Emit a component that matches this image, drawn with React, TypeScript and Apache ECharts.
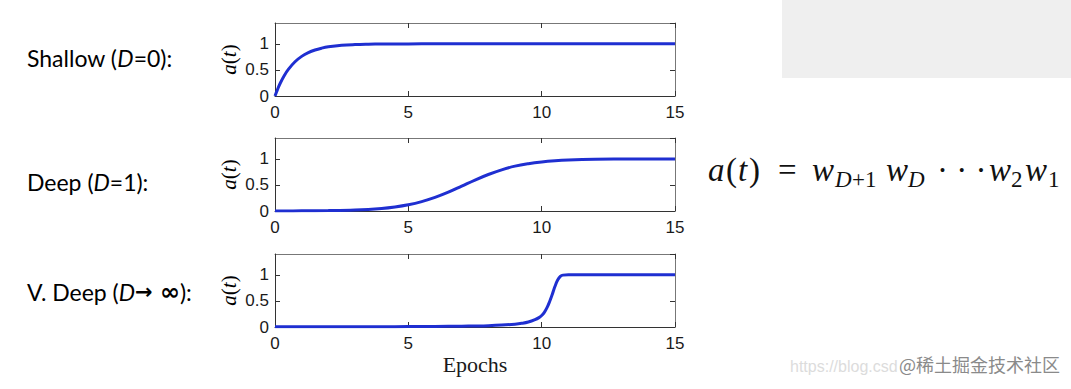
import React, { useEffect, useRef } from "react";
import * as echarts from "echarts";

// ---- data ----
const xTicks = [0, 5, 10, 15];
const yTickLabels = ["0", "0.5", "1"];

const shallowT = [0, 0.1, 0.2, 0.35, 0.5, 0.75, 1, 1.25, 1.5, 1.75, 2, 2.5, 3, 3.5, 4, 5, 6, 8, 10, 12, 15];
const shallowA = [0, 0.133, 0.249, 0.393, 0.51, 0.657, 0.76, 0.832, 0.883, 0.918, 0.943, 0.972, 0.986, 0.993, 0.997, 0.999, 1, 1, 1, 1, 1];

const deepT = [0, 1, 2, 3, 4, 4.5, 5, 5.5, 6, 6.5, 7, 7.5, 8, 8.5, 9, 9.5, 10, 10.5, 11, 12, 13, 14, 15];
const deepA = [0.0012, 0.003, 0.0078, 0.02, 0.05, 0.078, 0.12, 0.18, 0.26, 0.36, 0.476, 0.594, 0.7, 0.79, 0.86, 0.907, 0.94, 0.962, 0.976, 0.991, 0.996, 0.9986, 0.9995];

const vdeepT = [0, 2, 4, 5, 6, 7, 7.5, 8, 8.5, 9, 9.25, 9.5, 9.75, 9.9, 10, 10.1, 10.2, 10.3, 10.4, 10.5, 10.6, 10.7, 10.8, 11, 12, 13, 14, 15];
const vdeepA = [0.003, 0.004, 0.006, 0.008, 0.011, 0.016, 0.02, 0.026, 0.037, 0.055, 0.07, 0.095, 0.14, 0.18, 0.22, 0.28, 0.37, 0.49, 0.63, 0.78, 0.9, 0.97, 0.995, 1, 1, 1, 1, 1];

const panelLabels = [
  ["Shallow (", "D", "=0):"],
  ["Deep (", "D", "=1):"],
  ["V. Deep (", "D", "):"],
];
const limitSymbols = ["\u2192", "\u221E"];
const xAxisTitle = "Epochs";
const watermark = "@稀土掘金技术社区";
const watermarkUrl = "https://blog.csd";

const series = [
  { t: shallowT, a: shallowA },
  { t: deepT, a: deepA },
  { t: vdeepT, a: vdeepA },
];

const GRID_TOPS = [23, 138, 254];
const GRID_H = 73;
const GRID_LEFT = 275;
const GRID_W = 400;
const LINE_COLOR = "#1f2fd1";
const AXIS_DARK = "#333";
const AXIS_LIGHT = "#777";
const TICK_FONT = "Liberation Sans";
const MATH_FONT = "Liberation Serif";

export default function App() {
  const ref = useRef<HTMLDivElement>(null);

  useEffect(() => {
    document.body.style.margin = "0";
    if (!ref.current) return;
    const chart = echarts.init(ref.current, undefined, { renderer: "svg" });

    const grids: any[] = [];
    const xAxes: any[] = [];
    const yAxes: any[] = [];
    const ser: any[] = [];

    GRID_TOPS.forEach((top, i) => {
      grids.push({ left: GRID_LEFT, top, width: GRID_W, height: GRID_H, containLabel: false });
      xAxes.push({
        type: "value", gridIndex: i, position: "bottom", min: xTicks[0], max: xTicks[xTicks.length - 1], interval: 5,
        axisLine: { show: true, onZero: false, lineStyle: { color: AXIS_DARK, width: 1 } },
        axisTick: { show: true, inside: true, length: 5, lineStyle: { color: AXIS_DARK } },
        axisLabel: { show: true, margin: 8, fontSize: 17, fontFamily: TICK_FONT, color: "#1a1a1a" },
        splitLine: { show: false },
      });
      xAxes.push({
        type: "value", gridIndex: i, position: "top", min: 0, max: 15, interval: 5,
        axisLine: { show: true, onZero: false, lineStyle: { color: AXIS_LIGHT, width: 1 } },
        axisTick: { show: true, inside: true, length: 5, lineStyle: { color: AXIS_DARK } },
        axisLabel: { show: false },
        splitLine: { show: false },
      });
      yAxes.push({
        type: "value", gridIndex: i, position: "left", min: 0, max: 1.4, interval: 0.5,
        axisLine: { show: true, onZero: false, lineStyle: { color: AXIS_DARK, width: 1 } },
        axisTick: { show: true, inside: true, length: 5, lineStyle: { color: AXIS_DARK } },
        axisLabel: {
          show: true, margin: 6, fontSize: 17, fontFamily: TICK_FONT, color: "#1a1a1a", showMaxLabel: false,
          formatter: (v: number) => {
            const idx = [0, 0.5, 1].indexOf(v);
            return idx >= 0 ? yTickLabels[idx] : "";
          },
        },
        splitLine: { show: false },
      });
      yAxes.push({
        type: "value", gridIndex: i, position: "right", min: 0, max: 1.4, interval: 0.5,
        axisLine: { show: true, onZero: false, lineStyle: { color: AXIS_LIGHT, width: 1 } },
        axisTick: { show: true, inside: true, length: 5, lineStyle: { color: AXIS_DARK } },
        axisLabel: { show: false },
        splitLine: { show: false },
      });
      const s = series[i];
      ser.push({
        type: "line",
        xAxisIndex: i * 2,
        yAxisIndex: i * 2,
        data: s.t.map((t, k) => [t, s.a[k]]),
        showSymbol: false,
        smooth: 0.4,
        lineStyle: { color: LINE_COLOR, width: 3 },
        clip: true,
      });
    });

    const graphics: any[] = [];
    graphics.push({ type: "rect", shape: { x: 782, y: 0, width: 289, height: 78 }, style: { fill: "#efefef" }, silent: true });

    const labelY = [58, 182, 292];
    const richLabel = {
      n: { fontFamily: "Lato", fontSize: 23, color: "#1a1a1a" },
      i: { fontFamily: "Lato", fontStyle: "italic", fontSize: 23, color: "#1a1a1a" },
      ar: { fontFamily: "DejaVu Sans", fontWeight: "bold", fontSize: 21, color: "#1a1a1a" },
      inf: { fontFamily: "DejaVu Sans", fontWeight: "bold", fontSize: 24, color: "#1a1a1a" },
    };
    panelLabels.forEach((p, i) => {
      const mid = i === 2 ? `{ar|${limitSymbols[0]} }{inf|${limitSymbols[1]}}` : "";
      graphics.push({
        type: "text", x: 27, y: labelY[i],
        style: {
          text: `{n|${p[0]}}{i|${p[1]}}${mid}{n|${p[2]}}`,
          textAlign: "left", textVerticalAlign: "middle",
          rich: richLabel,
        },
      });
    });

    GRID_TOPS.forEach((top) => {
      graphics.push({
        type: "text", x: 229, y: top + GRID_H / 2, rotation: Math.PI / 2,
        style: {
          text: "{i|a}{n|(}{i|t}{n|)}",
          textAlign: "center", textVerticalAlign: "middle",
          rich: {
            n: { fontFamily: MATH_FONT, fontSize: 21, color: "#1a1a1a" },
            i: { fontFamily: MATH_FONT, fontStyle: "italic", fontSize: 21, color: "#1a1a1a" },
          },
        },
      });
    });

    graphics.push({
      type: "text", x: 475, y: 364,
      style: { text: xAxisTitle, textAlign: "center", textVerticalAlign: "middle", fontFamily: MATH_FONT, fontSize: 22, fill: "#1a1a1a" },
    });

    const mainY = 170;
    const subY = 179;
    const F = 33;
    const SF = 23;
    const piece = (txt: string, x: number, y: number, size: number, italic: boolean) => ({
      type: "text", x, y,
      style: {
        text: txt, textAlign: "left", textVerticalAlign: "middle",
        fontFamily: MATH_FONT, fontStyle: italic ? "italic" : "normal", fontSize: size, fill: "#111",
      },
    });
    graphics.push(piece("a", 708, mainY, F, true));
    graphics.push(piece("(", 726, mainY, F, false));
    graphics.push(piece("t", 738, mainY, F, true));
    graphics.push(piece(")", 749, mainY, F, false));
    graphics.push(piece("=", 778, mainY, F, false));
    graphics.push(piece("w", 812, mainY, F, true));
    graphics.push(piece("D", 835, subY, SF, true));
    graphics.push(piece("+1", 852, subY, SF, false));
    graphics.push(piece("w", 886, mainY, F, true));
    graphics.push(piece("D", 908, subY, SF, true));
    graphics.push(piece("\u00B7 \u00B7 \u00B7", 937, mainY, F, false));
    graphics.push(piece("w", 989, mainY, F, true));
    graphics.push(piece("2", 1011, subY, SF, false));
    graphics.push(piece("w", 1025, mainY, F, true));
    graphics.push(piece("1", 1048, subY, SF, false));

    graphics.push({
      type: "text", x: 790, y: 366,
      style: { text: watermarkUrl, textAlign: "left", textVerticalAlign: "middle", fontFamily: "Liberation Sans", fontSize: 16, fill: "#dcdcdc" },
    });
    graphics.push({
      type: "text", x: 899, y: 364,
      style: { text: watermark, textAlign: "left", textVerticalAlign: "middle", fontFamily: "Noto Sans CJK SC", fontSize: 18, fill: "#8a8a8a" },
    });

    chart.setOption({
      animation: false,
      backgroundColor: "#ffffff",
      grid: grids,
      xAxis: xAxes,
      yAxis: yAxes,
      series: ser,
      graphic: graphics,
    });

    return () => chart.dispose();
  }, []);

  return <div ref={ref} style={{ width: 1071, height: 389 }} />;
}
